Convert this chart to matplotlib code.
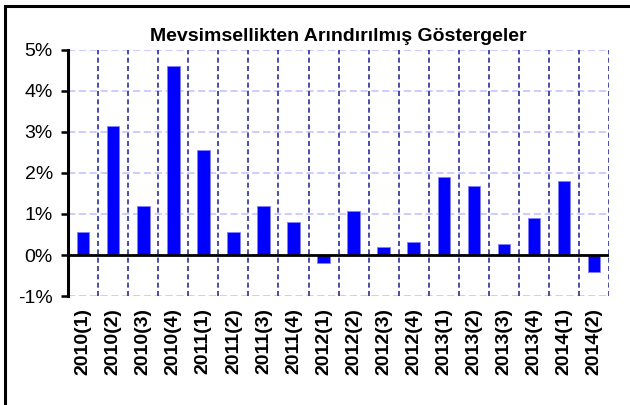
import numpy as np
import matplotlib.pyplot as plt
from matplotlib.patches import Rectangle
from matplotlib.ticker import FuncFormatter

plt.rcParams['font.family'] = ['Liberation Sans', 'DejaVu Sans']

periods = ['2010(1)', '2010(2)', '2010(3)', '2010(4)',
           '2011(1)', '2011(2)', '2011(3)', '2011(4)',
           '2012(1)', '2012(2)', '2012(3)', '2012(4)',
           '2013(1)', '2013(2)', '2013(3)', '2013(4)',
           '2014(1)', '2014(2)']
values = [0.55, 3.15, 1.2, 4.6, 2.55, 0.55, 1.2, 0.8,
          -0.2, 1.07, 0.2, 0.32, 1.89, 1.67, 0.28, 0.9,
          1.8, -0.42]
yticks = [-1, 0, 1, 2, 3, 4, 5]

fig = plt.figure(figsize=(6.3, 4.05), dpi=100)
ax = fig.add_axes([0.108, 0.269, 0.859, 0.608])

# outer frame (only left/top edges fall inside the picture)
fig.patches.append(Rectangle((0.008, -0.05), 1.1, 1.035, transform=fig.transFigure,
                             fill=False, edgecolor='black', linewidth=2.2))

x = np.arange(len(periods))
ax.bar(x, values, width=0.42, color='#0000ff', edgecolor='#8080ff', linewidth=0.6, zorder=3)

ax.set_xlim(-0.5, len(periods) - 0.5)
ax.set_ylim(-1, 5)
ax.set_yticks(yticks)
ax.yaxis.set_major_formatter(FuncFormatter(lambda v, p: f'{v:.0f}%'))
for y in yticks:
    ax.axhline(y, color='#c8c8ff', linestyle=(0, (4, 2)), linewidth=1.3, zorder=1)
for b in np.arange(0.5, len(periods), 1.0):
    ax.axvline(b, color='#2e2e99', linestyle=(0, (3, 2)), linewidth=1.2, zorder=2)
ax.axhline(0, color='black', linewidth=2, zorder=4)

ax.set_xticks(x)
ax.set_xticklabels(periods, rotation=90, fontweight='bold', fontsize=14)
ax.tick_params(axis='x', length=0, pad=8.5)
ax.tick_params(axis='y', labelsize=14, length=5, width=1.8, direction='out', pad=6)

for s in ['top', 'right', 'bottom']:
    ax.spines[s].set_visible(False)
ax.spines['left'].set_linewidth(2.2)

ax.set_title('Mevsimsellikten Arındırılmış Göstergeler', fontsize=14,
             fontweight='bold', pad=6)

fig.savefig('out.png', dpi=100)
